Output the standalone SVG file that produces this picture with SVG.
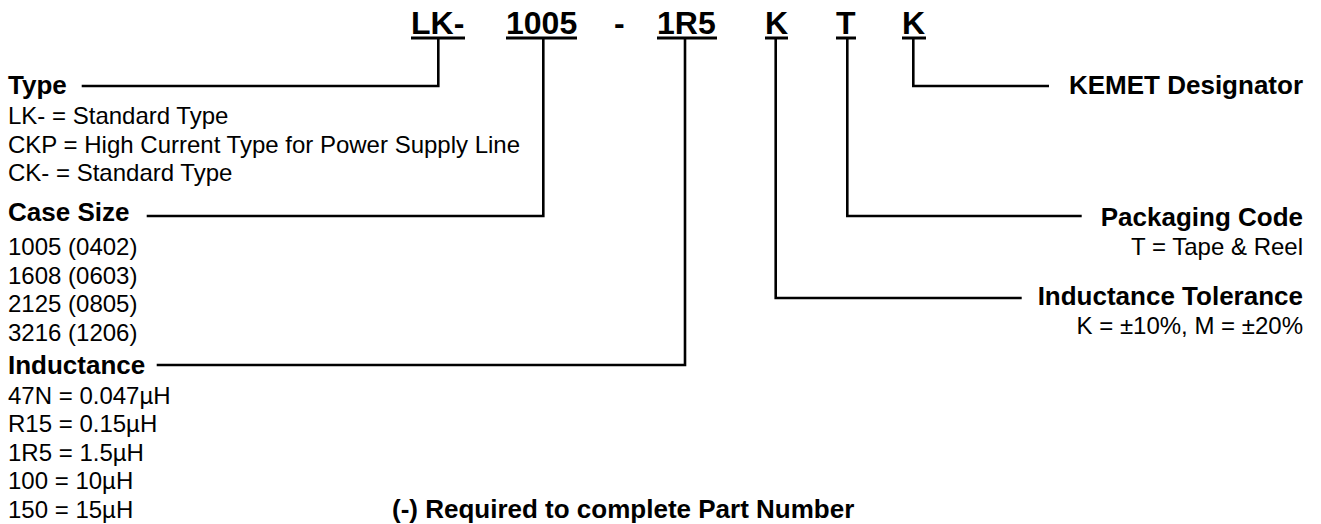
<svg xmlns="http://www.w3.org/2000/svg" width="1321" height="524" viewBox="0 0 1321 524">
<style>
.pn{font-family:"Liberation Sans",Arial,sans-serif;font-weight:bold;font-size:32px;fill:#000}
.h{font-family:"Liberation Sans",Arial,sans-serif;font-weight:bold;font-size:26px;fill:#000}
.t{font-family:"Liberation Sans",Arial,sans-serif;font-size:24px;fill:#000}
.r{text-anchor:end}
.ln{fill:none;stroke:#000;stroke-width:2.6}
.ul{stroke:#000;stroke-width:3}
</style>
<rect width="1321" height="524" fill="#fff"/>
<g id="partnumber">
<text class="pn" x="411" y="34">LK-</text>
<text class="pn" x="506" y="34">1005</text>
<text class="pn" x="614" y="34">-</text>
<text class="pn" x="657" y="34">1R5</text>
<text class="pn" x="765" y="34">K</text>
<text class="pn" x="836" y="34">T</text>
<text class="pn" x="902" y="34">K</text>
<line class="ul" x1="411" y1="38" x2="465" y2="38"/>
<line class="ul" x1="506" y1="38" x2="577" y2="38"/>
<line class="ul" x1="657" y1="38" x2="717" y2="38"/>
<line class="ul" x1="765" y1="38" x2="788" y2="38"/>
<line class="ul" x1="836" y1="38" x2="856" y2="38"/>
<line class="ul" x1="902" y1="38" x2="926" y2="38"/>
</g>
<g id="connectors">
<path class="ln" d="M81.7,86 H438.3 V38"/>
<path class="ln" d="M146.7,216 H543.3 V38"/>
<path class="ln" d="M156.7,365 H685 V38"/>
<path class="ln" d="M775.7,38 V298 H1021.7"/>
<path class="ln" d="M847.3,38 V216 H1081.7"/>
<path class="ln" d="M913.3,38 V86 H1049"/>
</g>
<g id="type">
<text class="h" x="8" y="94">Type</text>
<text class="t" x="8" y="124">LK- = Standard Type</text>
<text class="t" x="8" y="152.5">CKP = High Current Type for Power Supply Line</text>
<text class="t" x="8" y="181">CK- = Standard Type</text>
</g>
<g id="casesize">
<text class="h" x="8" y="221">Case Size</text>
<text class="t" x="8" y="255">1005 (0402)</text>
<text class="t" x="8" y="283.5">1608 (0603)</text>
<text class="t" x="8" y="312">2125 (0805)</text>
<text class="t" x="8" y="340.5">3216 (1206)</text>
</g>
<g id="inductance">
<text class="h" x="8" y="373.5">Inductance</text>
<text class="t" x="8" y="403.5">47N = 0.047µH</text>
<text class="t" x="8" y="432">R15 = 0.15µH</text>
<text class="t" x="8" y="460.5">1R5 = 1.5µH</text>
<text class="t" x="8" y="489">100 = 10µH</text>
<text class="t" x="8" y="517.5">150 = 15µH</text>
</g>
<g id="kemet">
<text class="h r" x="1303" y="94">KEMET Designator</text>
</g>
<g id="packaging">
<text class="h r" x="1303" y="226">Packaging Code</text>
<text class="t r" x="1303" y="255">T = Tape &amp; Reel</text>
</g>
<g id="tolerance">
<text class="h r" x="1303" y="305">Inductance Tolerance</text>
<text class="t r" x="1303" y="333.5">K = ±10%, M = ±20%</text>
</g>
<g id="note">
<text class="h" x="392" y="518">(-) Required to complete Part Number</text>
</g>
</svg>
